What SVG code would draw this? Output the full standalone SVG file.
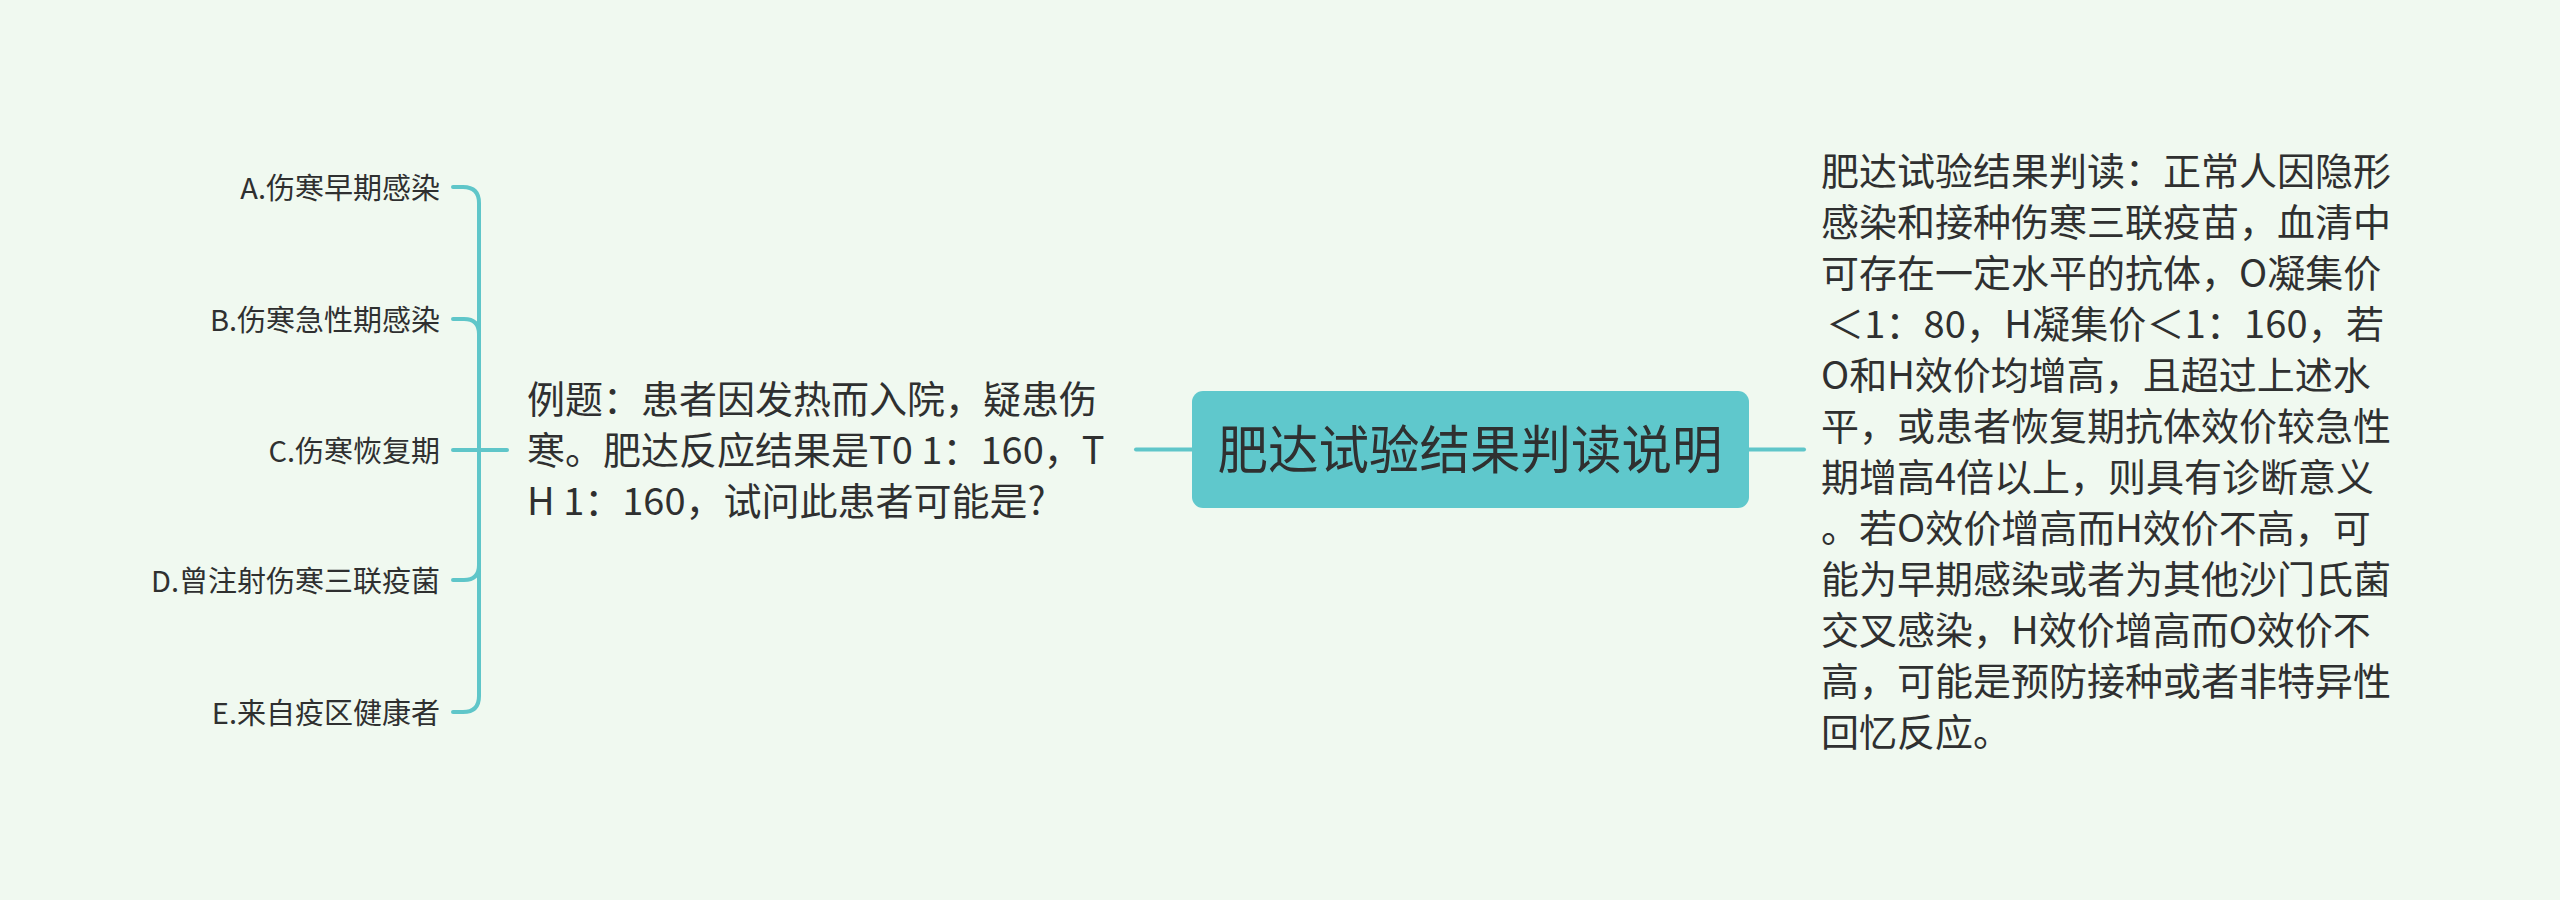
<svg xmlns="http://www.w3.org/2000/svg" width="2560" height="900" viewBox="0 0 2560 900">
  <style>
    .t { font-family: "Noto Sans CJK SC", "Noto Sans", sans-serif; fill: #2f3030; }
    .leaf { font-size: 29px; text-anchor: end; }
    .mid { font-size: 38px; }
    .root { font-size: 52px; text-anchor: middle; }
    .ln { stroke: #5fc6c9; stroke-width: 4; fill: none; stroke-linecap: round; }
  </style>
  <rect width="2560" height="900" fill="#f0f9f0"/>

  <g id="connectors">
    <path class="ln" d="M1136,449.5 H1192"/>
    <path class="ln" d="M1749,449.5 H1804"/>
    <path class="ln" d="M453,187 H463 Q479,187 479,203 V696 Q479,712 463,712 H453"/>
    <path class="ln" d="M453,319 H464 Q479,319 479,334"/>
    <path class="ln" d="M453,450 H507"/>
    <path class="ln" d="M453,580 H464 Q479,580 479,565"/>
  </g>

  <g id="root">
    <rect x="1192" y="391" width="557" height="117" rx="11" fill="#5fc8cc"/>
    <text class="t root" x="1470" y="469" textLength="505" lengthAdjust="spacingAndGlyphs">肥达试验结果判读说明</text>
  </g>

  <g id="question">
    <text class="t mid" x="527" y="413">例题：患者因发热而入院，疑患伤</text>
    <text class="t mid" x="527" y="464">寒。肥达反应结果是T0 1：160，T</text>
    <text class="t mid" x="527" y="515">H 1：160，试问此患者可能是?</text>
  </g>

  <g id="optA"><text class="t leaf" x="440" y="199">A.伤寒早期感染</text></g>
  <g id="optB"><text class="t leaf" x="440" y="331">B.伤寒急性期感染</text></g>
  <g id="optC"><text class="t leaf" x="440" y="462">C.伤寒恢复期</text></g>
  <g id="optD"><text class="t leaf" x="440" y="592">D.曾注射伤寒三联疫菌</text></g>
  <g id="optE"><text class="t leaf" x="440" y="724">E.来自疫区健康者</text></g>

  <g id="explanation">
    <text class="t mid" x="1821" y="185">肥达试验结果判读：正常人因隐形</text>
    <text class="t mid" x="1821" y="236">感染和接种伤寒三联疫苗，血清中</text>
    <text class="t mid" x="1821" y="287">可存在一定水平的抗体，O凝集价</text>
    <text class="t mid" x="1826" y="338" textLength="558" lengthAdjust="spacing">＜1：80，H凝集价＜1：160，若</text>
    <text class="t mid" x="1821" y="389">O和H效价均增高，且超过上述水</text>
    <text class="t mid" x="1821" y="440">平，或患者恢复期抗体效价较急性</text>
    <text class="t mid" x="1821" y="491">期增高4倍以上，则具有诊断意义</text>
    <text class="t mid" x="1821" y="542">。若O效价增高而H效价不高，可</text>
    <text class="t mid" x="1821" y="593">能为早期感染或者为其他沙门氏菌</text>
    <text class="t mid" x="1821" y="644">交叉感染，H效价增高而O效价不</text>
    <text class="t mid" x="1821" y="695">高，可能是预防接种或者非特异性</text>
    <text class="t mid" x="1821" y="746">回忆反应。</text>
  </g>
</svg>
